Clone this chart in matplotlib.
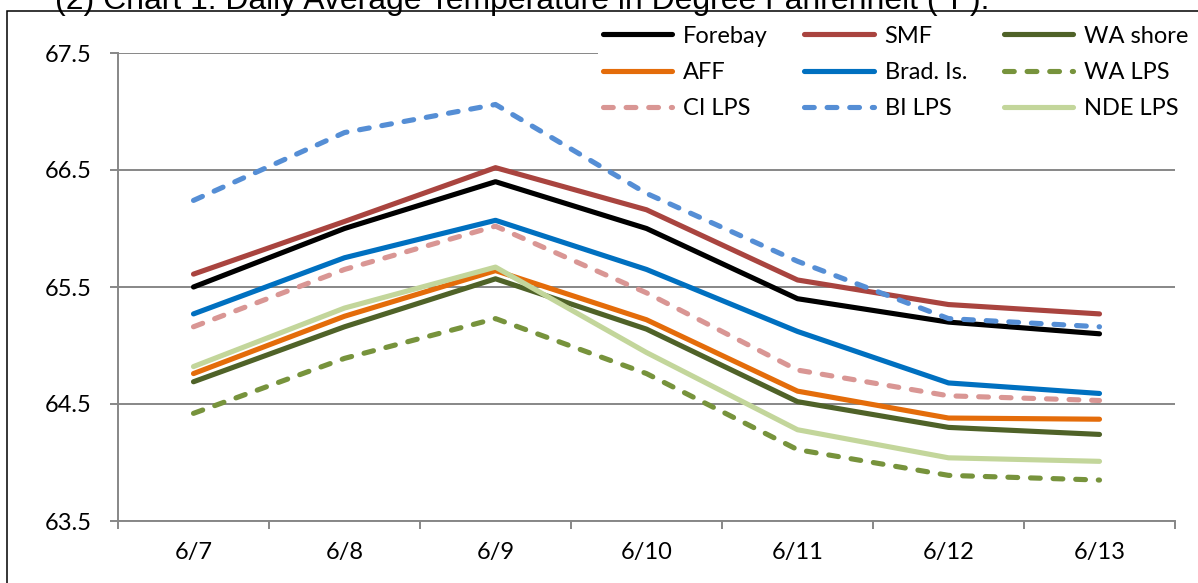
import matplotlib
matplotlib.use("Agg")
import matplotlib.pyplot as plt
from matplotlib.patches import Rectangle
from matplotlib.ticker import FixedLocator, NullFormatter, FixedFormatter

dates = ['6/7', '6/8', '6/9', '6/10', '6/11', '6/12', '6/13']
forebay = [65.50, 66.00, 66.40, 66.00, 65.40, 65.20, 65.10]
smf = [65.61, 66.06, 66.52, 66.16, 65.56, 65.35, 65.27]
wa_shore = [64.69, 65.16, 65.57, 65.14, 64.52, 64.30, 64.24]
aff = [64.76, 65.25, 65.64, 65.22, 64.61, 64.38, 64.37]
brad = [65.27, 65.75, 66.07, 65.65, 65.12, 64.68, 64.59]
wa_lps = [64.42, 64.89, 65.23, 64.76, 64.11, 63.89, 63.85]
ci_lps = [65.16, 65.65, 66.02, 65.45, 64.79, 64.57, 64.53]
bi_lps = [66.24, 66.82, 67.06, 66.30, 65.72, 65.23, 65.16]
nde_lps = [64.82, 65.32, 65.67, 64.94, 64.28, 64.04, 64.01]

y_ticks = [63.5, 64.5, 65.5, 66.5, 67.5]
title = "(2) Chart 1. Daily Average Temperature in Degree Fahrenheit (\u00b0F)."

series = [
    ("Forebay", forebay, "#000000", False),
    ("SMF", smf, "#A9443F", False),
    ("WA shore", wa_shore, "#4F6228", False),
    ("AFF", aff, "#E46C0A", False),
    ("Brad. Is.", brad, "#0070C0", False),
    ("WA LPS", wa_lps, "#77933C", True),
    ("CI LPS", ci_lps, "#D99694", True),
    ("BI LPS", bi_lps, "#558ED5", True),
    ("NDE LPS", nde_lps, "#C3D69B", False),
]

FONT = "Lato"
FS = 17
W, H = 1198, 583
fig = plt.figure(figsize=(W / 100, H / 100), dpi=100)
ax = fig.add_axes([118 / W, (H - 521) / H, (1175 - 118) / W, (521 - 53) / H])

x = list(range(len(dates)))
handles = {}
for name, vals, col, dashed in series:
    if dashed:
        ln, = ax.plot(x, vals, color=col, lw=3.7, dashes=(1.9, 2.5),
                      dash_capstyle='round', solid_capstyle='round', label=name)
    else:
        ln, = ax.plot(x, vals, color=col, lw=3.7, solid_capstyle='round',
                      solid_joinstyle='round', label=name)
    handles[name] = ln

ax.set_xlim(-0.5, len(dates) - 0.5)
ax.set_ylim(y_ticks[0], y_ticks[-1])
ax.yaxis.set_major_locator(FixedLocator(y_ticks))
ax.set_yticklabels([f"{v:.1f}" for v in y_ticks], fontsize=FS, family=FONT)
ax.xaxis.set_major_locator(FixedLocator([i - 0.5 for i in range(len(dates) + 1)]))
ax.xaxis.set_major_formatter(NullFormatter())
ax.xaxis.set_minor_locator(FixedLocator(x))
ax.xaxis.set_minor_formatter(FixedFormatter(dates))
ax.tick_params(axis='x', which='minor', length=0, pad=15, labelsize=FS)
for lbl in ax.get_xticklabels(minor=True):
    lbl.set_family(FONT)
ax.tick_params(axis='x', which='major', length=6, width=1.4, color='#878787', direction='out')
ax.tick_params(axis='y', length=6, width=1.4, color='#878787', direction='out', pad=13)
ax.grid(axis='y', color='#878787', lw=1.4)
ax.set_axisbelow(True)
for s in ['top', 'right']:
    ax.spines[s].set_visible(False)
for s in ['left', 'bottom']:
    ax.spines[s].set_color('#878787')
    ax.spines[s].set_linewidth(1.4)

order = ["Forebay", "AFF", "CI LPS", "SMF", "Brad. Is.", "BI LPS",
         "WA shore", "WA LPS", "NDE LPS"]
leg = fig.legend([handles[n] for n in order], order, loc='upper left',
                 bbox_to_anchor=(598 / W, 1 - 21 / H), ncol=3, frameon=True,
                 prop={'family': FONT, 'size': FS}, handlelength=2.95,
                 handletextpad=0.45, columnspacing=1.55, labelspacing=0.65,
                 borderpad=0.2, borderaxespad=0)
leg.get_frame().set_facecolor('white')
leg.get_frame().set_edgecolor('none')
leg.get_frame().set_alpha(1)

# outer chart border (extends beyond the canvas right/bottom)
fig.patches.append(Rectangle((7 / W, -0.1), 1.2, 1 - 11 / H + 0.1,
                             transform=fig.transFigure, fill=False,
                             edgecolor='black', lw=1.1, clip_on=False))

t = fig.text(55 / W, 1 - 9 / H, title, family="Liberation Sans", fontsize=20,
             va='baseline', ha='left')
fig.canvas.draw()
bb = t.get_window_extent()
t.set_fontsize(20 * 930 / bb.width)

fig.savefig("out.png", dpi=100)
